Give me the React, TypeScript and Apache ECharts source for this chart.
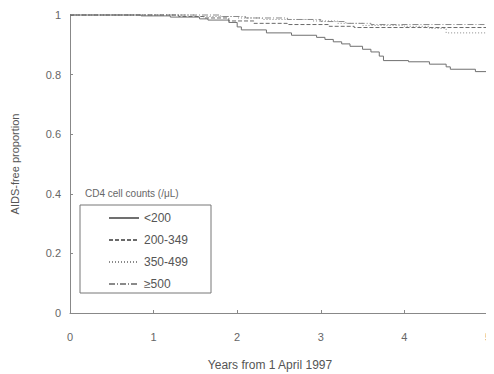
import React, { useEffect, useRef } from "react";
import * as echarts from "echarts";

const seriesNames = ["<200", "200-349", "350-499", "≥500"];

const lt200: [number, number][] = [
  [0, 1], [0.8, 1], [0.85, 0.997], [1.2, 0.993], [1.55, 0.987], [1.65, 0.983],
  [1.9, 0.975], [2.0, 0.96], [2.05, 0.95], [2.35, 0.94], [2.65, 0.932],
  [2.95, 0.925], [3.05, 0.918], [3.15, 0.91], [3.25, 0.903], [3.35, 0.895],
  [3.5, 0.885], [3.6, 0.876], [3.7, 0.862], [3.75, 0.847], [4.05, 0.843],
  [4.3, 0.835], [4.5, 0.826], [4.55, 0.818], [4.85, 0.81], [5.0, 0.807],
];
const s200_349: [number, number][] = [
  [0, 1], [0.9, 1], [1.3, 0.995], [1.6, 0.99], [1.9, 0.98], [2.2, 0.972],
  [2.6, 0.968], [3.1, 0.962], [3.4, 0.958], [5.0, 0.958],
];
const s350_499: [number, number][] = [
  [0, 1], [1.2, 1], [1.5, 0.995], [2.0, 0.99], [2.3, 0.985], [2.9, 0.98],
  [3.2, 0.972], [3.5, 0.965], [4.0, 0.962], [4.3, 0.955], [4.5, 0.94], [5.0, 0.94],
];
const s500: [number, number][] = [
  [0, 1], [1.5, 1], [1.8, 0.995], [2.1, 0.99], [2.6, 0.985], [3.0, 0.978],
  [3.3, 0.972], [3.6, 0.968], [4.9, 0.968], [5.0, 0.963],
];

const xTicks = [0, 1, 2, 3, 4, 5];
const yTicks = [0, 0.2, 0.4, 0.6, 0.8, 1];

const seriesData = [lt200, s200_349, s350_499, s500];
const dashTypes: any[] = ["solid", [4, 2], [1, 2], [6, 2, 1, 2]];
const colors = ["#707070", "#6a6a6a", "#8a8a8a", "#8a8a8a"];

const FONT = "Liberation Sans, Arial, sans-serif";

export default function App() {
  const ref = useRef<HTMLDivElement>(null);
  useEffect(() => {
    if (!ref.current) return;
    const chart = echarts.init(ref.current, undefined, { renderer: "svg" });
    chart.setOption({
      animation: false,
      backgroundColor: "#fff",
      grid: { left: 70, top: 15, width: 420, height: 298 },
      xAxis: {
        type: "value",
        min: xTicks[0],
        max: xTicks[xTicks.length - 1],
        interval: 1,
        axisLine: { lineStyle: { color: "#888", width: 1 } },
        axisTick: { inside: true, length: 3, lineStyle: { color: "#888" } },
        axisLabel: { color: "#666", fontSize: 11, margin: 18, fontFamily: FONT },
        splitLine: { show: false },
      },
      yAxis: {
        type: "value",
        min: yTicks[0],
        max: yTicks[yTicks.length - 1],
        interval: 0.2,
        axisLine: { show: true, lineStyle: { color: "#888", width: 1 } },
        axisTick: { show: true, inside: true, length: 3, lineStyle: { color: "#888" } },
        axisLabel: {
          color: "#666",
          fontSize: 11,
          margin: 9,
          fontFamily: FONT,
          formatter: (v: number) => String(Math.round(v * 10) / 10),
        },
        splitLine: { show: false },
        name: "AIDS-free proportion",
        nameLocation: "middle",
        nameGap: 50,
        nameTextStyle: { color: "#555", fontSize: 11, fontFamily: FONT },
      },
      legend: {
        orient: "vertical",
        left: 103,
        top: 207,
        itemWidth: 30,
        itemHeight: 10,
        itemGap: 10,
        itemStyle: { opacity: 0 },
        textStyle: { color: "#555", fontSize: 12, fontFamily: FONT },
        data: seriesNames,
      },
      graphic: [
        {
          type: "rect",
          shape: { x: 80, y: 205, width: 131, height: 88 },
          style: { fill: "none", stroke: "#777", lineWidth: 1 },
        },
        {
          type: "text",
          x: 85,
          y: 193,
          style: {
            text: "CD4 cell counts (/μL)",
            fill: "#666",
            fontSize: 10,
            fontFamily: FONT,
            verticalAlign: "middle",
          },
        },
        {
          type: "text",
          x: 270,
          y: 365,
          style: {
            text: "Years from 1 April 1997",
            fill: "#555",
            fontSize: 12,
            fontFamily: FONT,
            align: "center",
            verticalAlign: "middle",
          },
        },
      ],
      series: seriesNames.map((name, i) => ({
        name,
        type: "line",
        step: "end",
        symbol: "none",
        clip: false,
        data: seriesData[i],
        lineStyle: { color: colors[i], width: 1, type: dashTypes[i] },
        itemStyle: { color: colors[i] },
        z: 10 - i,
      })),
    });
    return () => chart.dispose();
  }, []);
  return <div ref={ref} style={{ width: 494, height: 374, marginLeft: -8, marginTop: -8 }} />;
}
